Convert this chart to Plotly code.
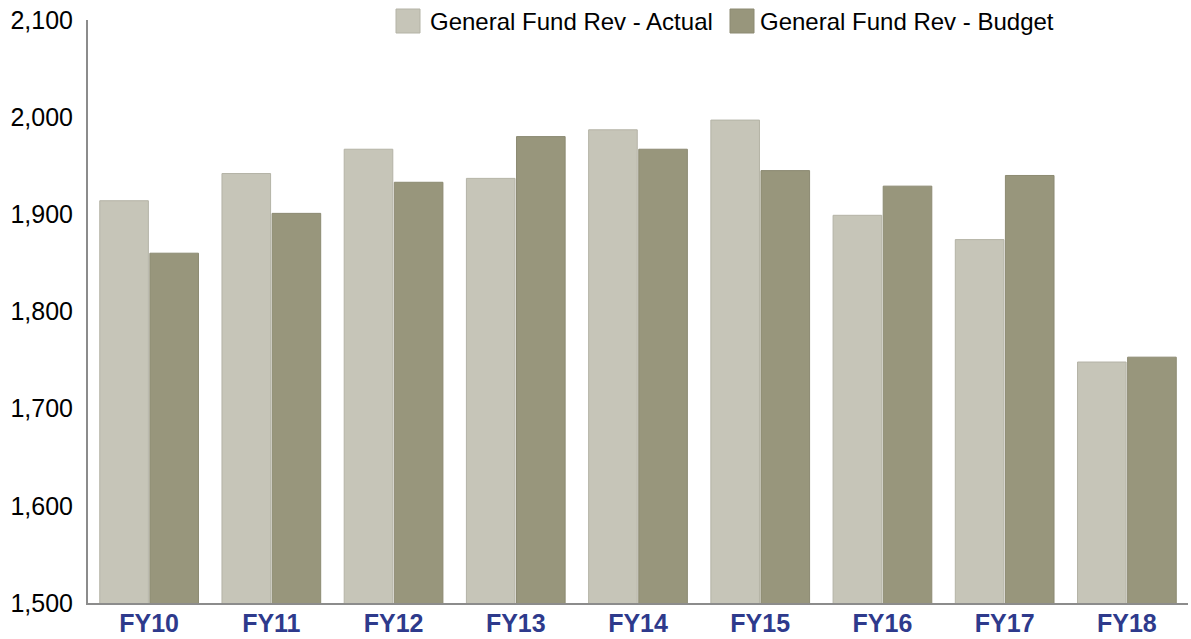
import plotly.graph_objects as go

categories = ["FY10", "FY11", "FY12", "FY13", "FY14", "FY15", "FY16", "FY17", "FY18"]
actual = [1914, 1942, 1967, 1937, 1987, 1997, 1899, 1874, 1748]
budget = [1860, 1901, 1933, 1980, 1967, 1945, 1929, 1940, 1753]
y_ticks = [1500, 1600, 1700, 1800, 1900, 2000, 2100]

names = ["General Fund Rev - Actual", "General Fund Rev - Budget"]
fills = ["#C6C5B8", "#98967C"]
edges = ["#B4B3A6", "#8C8A72"]

FONT = "Liberation Sans, Arial, sans-serif"
W, H = 1191, 639
ML, MR, MT, MB = 88, 3, 20, 36

fig = go.Figure()
for vals, name, fc, ec in zip([actual, budget], names, fills, edges):
    fig.add_trace(go.Bar(
        x=categories, y=vals, name=name,
        marker=dict(color=fc, line=dict(color=ec, width=1)),
    ))

# Legend drawn as swatches + labels in pixel-derived paper coordinates
pw, ph = W - ML - MR, H - MT - MB


def px_x(px):
    return (px - ML) / pw


def px_y(py):
    return 1 - (py - MT) / ph


legend_items = [(396, 428), (730, 758)]
for (sx, tx), name, fc, ec in zip(legend_items, names, fills, edges):
    fig.add_shape(type="rect", xref="paper", yref="paper",
                  x0=px_x(sx), x1=px_x(sx + 24), y0=px_y(33), y1=px_y(9),
                  fillcolor=fc, line=dict(color=ec, width=1), layer="above")
    fig.add_annotation(xref="paper", yref="paper", x=px_x(tx), y=px_y(21),
                       xanchor="left", yanchor="middle", text=name, showarrow=False,
                       font=dict(family=FONT, size=24, color="black"))

fig.update_layout(
    width=W, height=H,
    margin=dict(l=ML, r=MR, t=MT, b=MB),
    paper_bgcolor="white", plot_bgcolor="white",
    barmode="group", bargap=0.18, bargroupgap=0.03,
    font=dict(family=FONT, size=24, color="black"),
    showlegend=False,
)
fig.update_xaxes(
    showline=True, linecolor="#8C8C8C", linewidth=2, ticks="",
    tickfont=dict(family=FONT, size=25, color="#2E3A8C", weight="bold"),
    showgrid=False, automargin=False, ticklabelstandoff=-3,
)
fig.update_yaxes(
    range=[1500, 2100], tickvals=y_ticks, tickformat=",d",
    showline=True, linecolor="#8C8C8C", linewidth=2, ticks="",
    showgrid=False, zeroline=False, automargin=False,
    tickfont=dict(family=FONT, size=25, color="black"), ticklabelstandoff=8,
)

fig.write_html("out.html")
